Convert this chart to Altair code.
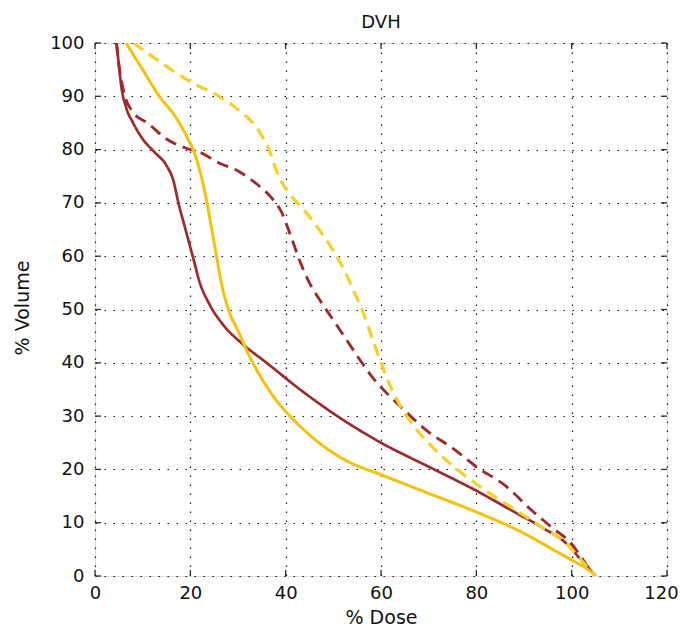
import altair as alt
import pandas as pd

# ---- data (dose %, volume %) ----
red_solid_dose = [4.5, 5, 5.5, 6.5, 8, 10, 12.5, 15, 16.5, 17.5, 19, 20.5, 22, 24, 27, 31, 36, 43, 50, 60, 70, 80, 88, 94, 99, 102, 104, 105]
red_solid_vol = [100, 96, 92, 88, 85, 82, 79.5, 77, 74, 70, 65, 60, 55, 51, 47, 43.5, 40, 35, 30.5, 25, 20.5, 16, 12, 9, 6, 3, 1, 0]

red_dash_dose = [4.5, 5, 6, 8, 11, 15, 19, 22, 26, 30, 34, 37, 39, 41, 43, 45, 47, 50, 53, 56, 58, 61, 65, 70, 75, 80, 86, 92, 96, 100, 102, 104, 105]
red_dash_vol = [100, 96, 91, 87, 85, 82, 80.3, 79.5, 77.5, 76, 73.5, 71, 68.5, 64, 59, 55, 52, 48, 44, 40, 37.5, 34.5, 31, 27, 24, 20.5, 17, 12, 9, 6, 3.5, 1, 0]

yel_solid_dose = [6.5, 10, 13.5, 17, 19.5, 21, 22.3, 23.5, 24.5, 25.5, 26.5, 28, 30, 32, 35, 38, 42, 47, 53, 60, 70, 80, 90, 97, 101, 103, 105]
yel_solid_vol = [100, 95, 90, 86, 82, 79, 75, 70, 65, 60, 55, 50, 46, 42, 37, 33, 29, 25, 21.5, 19, 15.5, 12, 8, 4.5, 2.5, 1.5, 0]

yel_dash_dose = [8, 12, 16, 20.5, 26, 30, 34, 36.5, 38.5, 41, 44, 47, 50, 52.5, 54.5, 56, 58, 60, 62, 64, 67, 71, 76, 82, 88, 94, 99, 102, 105]
yel_dash_vol = [100, 97.5, 95, 92.5, 90, 87.5, 84, 80, 75, 71.5, 68.5, 65, 61, 57, 53, 50, 45, 40, 35.5, 32, 28, 24, 20, 16, 12.5, 9, 6, 3, 0]

series_names = ["red solid", "red dashed", "yellow solid", "yellow dashed"]
series_colors = ["#9C2A2C", "#9C2A2C", "#F4C20D", "#F5CF2A"]
series_dash = [[1, 0], [12, 7], [1, 0], [12, 7]]
series_width = [2.7, 3.2, 2.7, 3.2]

x_ticks = [0, 20, 40, 60, 80, 100, 120]
y_ticks = [0, 10, 20, 30, 40, 50, 60, 70, 80, 90, 100]

rows = []
for name, ds, vs in [("red solid", red_solid_dose, red_solid_vol),
                     ("red dashed", red_dash_dose, red_dash_vol),
                     ("yellow solid", yel_solid_dose, yel_solid_vol),
                     ("yellow dashed", yel_dash_dose, yel_dash_vol)]:
    for i, (d, v) in enumerate(zip(ds, vs)):
        rows.append({"series": name, "dose": d, "vol": v, "i": i})
df = pd.DataFrame(rows)

W, H = 572, 533
FONT = "DejaVu Sans"

x_scale = alt.Scale(domain=[0, 120], nice=False, zero=False)
y_scale = alt.Scale(domain=[0, 100], nice=False, zero=False)

x_axis = alt.Axis(values=x_ticks, title="% Dose", grid=True, domain=False, ticks=False,
                  labelPadding=8, labelFont=FONT, labelFontSize=18, labelColor="#111",
                  labelFlush=False, labelOverlap=False,
                  labelOffset={"condition": {"test": "datum.value == 120", "value": -6}, "value": 0},
                  titleFont=FONT, titleFontSize=19, titleFontWeight="normal", titleColor="#111",
                  titleY=41, titleBaseline="middle",
                  gridColor="#111", gridDash=[1.5, 7.5], gridWidth=1.2, gridOpacity=1)
y_axis = alt.Axis(values=y_ticks, title="% Volume", grid=True, domain=False, ticks=False,
                  labelPadding=11, labelFont=FONT, labelFontSize=18, labelColor="#111",
                  labelFlush=False, labelOverlap=False,
                  titleFont=FONT, titleFontSize=19, titleFontWeight="normal", titleColor="#111",
                  titleX=-73, titleY=H / 2 - 2, titleAlign="center", titleBaseline="middle", titleAngle=270,
                  gridColor="#111", gridDash=[1.5, 7.5], gridWidth=1.2, gridOpacity=1)

lines = alt.Chart(df).mark_line(interpolate="monotone", clip=True).encode(
    x=alt.X("dose:Q", scale=x_scale, axis=x_axis),
    y=alt.Y("vol:Q", scale=y_scale, axis=y_axis),
    color=alt.Color("series:N", scale=alt.Scale(domain=series_names, range=series_colors), legend=None),
    strokeDash=alt.StrokeDash("series:N", scale=alt.Scale(domain=series_names, range=series_dash), legend=None),
    strokeWidth=alt.StrokeWidth("series:N", scale=alt.Scale(domain=series_names, range=series_width), legend=None),
    order="i:Q",
    detail="series:N",
)

xt = pd.DataFrame({"dose": x_ticks})
yt = pd.DataFrame({"vol": y_ticks})
TICK = 6
tick_style = dict(color="#2b2b2b", strokeWidth=1.3)

xb = alt.Chart(xt).mark_rule(**tick_style).encode(
    x=alt.X("dose:Q", scale=x_scale, axis=x_axis), y=alt.value(H), y2=alt.value(H - TICK))
xtop = alt.Chart(xt).mark_rule(**tick_style).encode(
    x=alt.X("dose:Q", scale=x_scale, axis=x_axis), y=alt.value(0), y2=alt.value(TICK))
yl = alt.Chart(yt).mark_rule(**tick_style).encode(
    y=alt.Y("vol:Q", scale=y_scale, axis=y_axis), x=alt.value(0), x2=alt.value(TICK))
yr = alt.Chart(yt).mark_rule(**tick_style).encode(
    y=alt.Y("vol:Q", scale=y_scale, axis=y_axis), x=alt.value(W), x2=alt.value(W - TICK))

chart = alt.layer(xb, xtop, yl, yr, lines).properties(
    width=W, height=H,
    title=alt.TitleParams("DVH", font=FONT, fontSize=18, fontWeight="normal", color="#111",
                          anchor="middle", offset=2),
    autosize=alt.AutoSizeParams(type="none"),
    padding={"left": 87, "top": 35, "right": 11, "bottom": 56},
).configure_view(stroke="#2b2b2b", strokeWidth=1.6).configure(background="white")

chart.save("out.html", embed_options={"renderer": "svg", "actions": False})
